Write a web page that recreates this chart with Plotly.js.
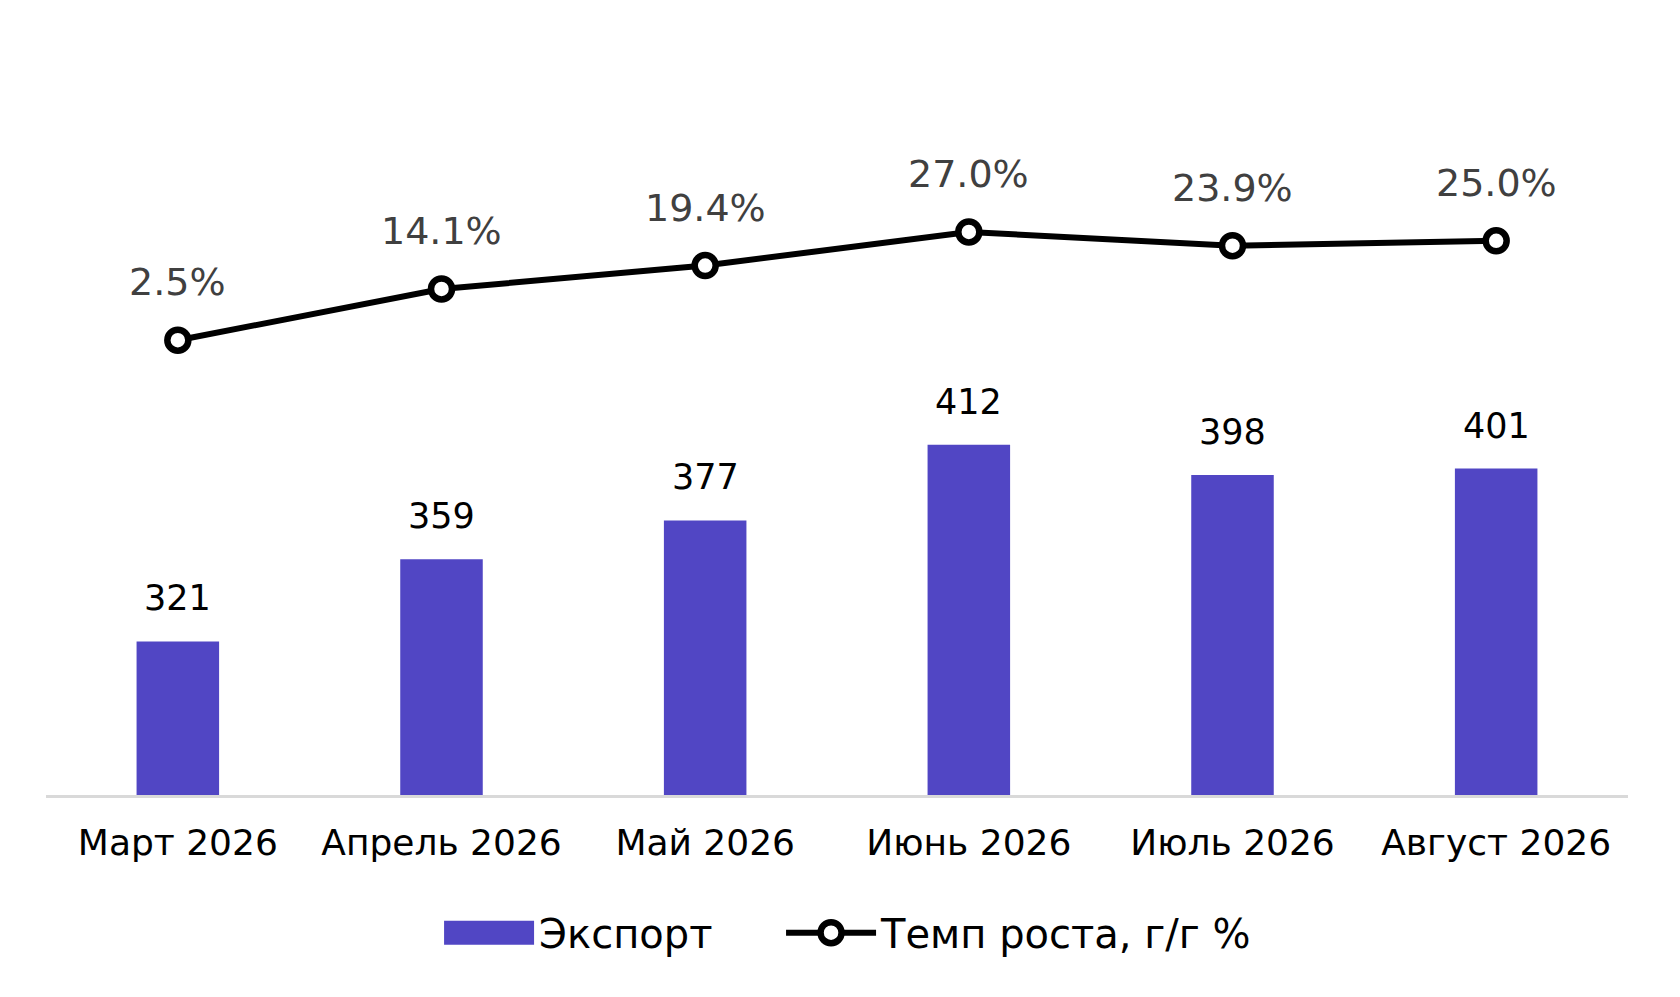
<!DOCTYPE html>
<html>
<head>
<meta charset="utf-8">
<script src="https://cdn.plot.ly/plotly-3.0.1.min.js"></script>
<style>
  html, body { margin: 0; padding: 0; background: #fff; }
  #chart { width: 1680px; height: 997px; }
</style>
</head>
<body>
<div id="chart"></div>
<script>
/***********
  DATA
************/

// Months on the x axis
const months = ['Март 2026', 'Апрель 2026', 'Май 2026', 'Июнь 2026', 'Июль 2026', 'Август 2026'];

// Export volume (bars)
const exportValues = [321, 359, 377, 412, 398, 401];

// Growth rate, y/y % (line)
const growthRate = [2.5, 14.1, 19.4, 27.0, 23.9, 25.0];

/***********
  CHART
************/

function drawChart() {
  const font = 'DejaVu Sans, sans-serif';
  // non-breaking spaces keep a wider gap between the two legend entries
  const legendPad = '\u00A0'.repeat(5);

  // Bars for export
  let barExport = {
    type: 'bar',
    name: 'Экспорт' + legendPad,
    x: months,
    y: exportValues,
    marker: { color: '#5146c4' },
    hoverinfo: 'x+y'
  };

  // Growth line on the hidden right axis
  let lineGrowth = {
    type: 'scatter',
    mode: 'lines+markers',
    name: 'Темп роста, г/г %',
    x: months,
    y: growthRate,
    yaxis: 'y2',
    line: { color: '#000000', width: 6 },
    marker: { symbol: 'circle', size: 21, color: '#ffffff', line: { color: '#000000', width: 6.5 } },
    cliponaxis: false
  };

  // Value labels, one per point, placed through the axes
  let annotations = [];
  months.forEach((m, i) => {
    annotations.push({
      x: m, y: exportValues[i], xref: 'x', yref: 'y',
      text: String(exportValues[i]),
      showarrow: false, yanchor: 'middle', yshift: 43,
      font: { family: font, size: 35, color: '#000000' }
    });
    annotations.push({
      x: m, y: growthRate[i], xref: 'x', yref: 'y2',
      text: growthRate[i].toFixed(1) + '%',
      showarrow: false, yanchor: 'middle', yshift: 58,
      font: { family: font, size: 38, color: '#404040' }
    });
  });

  let layout = {
    width: 1680,
    height: 997,
    margin: { l: 46, r: 52, t: 30, b: 202 },
    paper_bgcolor: '#ffffff',
    plot_bgcolor: '#ffffff',
    font: { family: font, color: '#000000' },
    showlegend: true,
    bargap: 0.687,
    xaxis: {
      type: 'category',
      showgrid: false,
      showline: true,
      linecolor: '#d9d9d9',
      linewidth: 3,
      ticks: '',
      ticklabelstandoff: 14,
      tickfont: { family: font, size: 36, color: '#000000' }
    },
    yaxis: {
      range: [250, 603.8],
      visible: false,
      showgrid: false,
      zeroline: false
    },
    yaxis2: {
      range: [-100.4, 72.7],
      overlaying: 'y',
      side: 'right',
      visible: false,
      showgrid: false,
      zeroline: false
    },
    legend: {
      orientation: 'h',
      x: 0.507,
      xanchor: 'center',
      y: -0.18,
      yanchor: 'middle',
      itemwidth: 90,
      font: { family: font, size: 40, color: '#000000' }
    },
    annotations: annotations
  };

  Plotly.newPlot('chart', [barExport, lineGrowth], layout, { displayModeBar: false, staticPlot: true })
    .then(gd => {
      let items = gd.querySelectorAll('.legend .traces');
      // Widen the bar swatch in the legend to a long rectangle
      if (items[0]) {
        items[0].querySelectorAll('.legendpoints path').forEach(p => {
          p.setAttribute('d', 'M45,12H-45V-12H45Z');
        });
      }
      // Legend marker as big as the ones on the line (plotly caps its size)
      if (items[1]) {
        items[1].querySelectorAll('.legendpoints path.scatterpts').forEach(p => {
          p.setAttribute('d', 'M10.5,0A10.5,10.5 0 1,1 0,-10.5A10.5,10.5 0 0,1 10.5,0Z');
          p.style.strokeWidth = '6.5px';
        });
      }
    });
}

drawChart();
</script>
</body>
</html>
